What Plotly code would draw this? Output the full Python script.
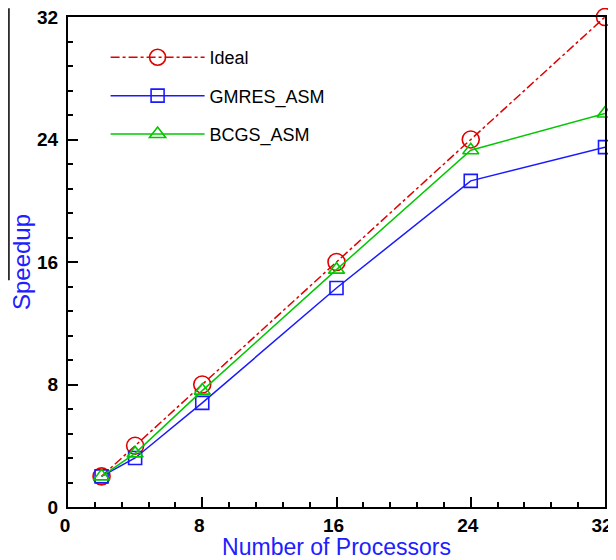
import plotly.graph_objects as go

processors = [2, 4, 8, 16, 24, 32]
ideal = [2, 4, 8, 16, 24, 32]
gmres_asm = [2.0, 3.2, 6.8, 14.3, 21.3, 23.5]
bcgs_asm = [2.0, 3.5, 7.6, 15.5, 23.3, 25.7]
tick_vals = [0, 8, 16, 24, 32]
tick_text = ["0", "8", "16", "24", "32"]

fig = go.Figure()
fig.add_trace(go.Scatter(
    x=processors, y=ideal, name="Ideal", mode="lines+markers", legendgroup="a",
    cliponaxis=False,
    line=dict(color="#e00000", width=1.5, dash="dashdot"),
    marker=dict(symbol="circle-open", size=17, color="#e00000", line=dict(width=1.6)),
))
fig.add_trace(go.Scatter(
    x=processors, y=gmres_asm, name="GMRES_ASM", mode="lines+markers", legendgroup="b",
    cliponaxis=False,
    line=dict(color="#1a1aff", width=1.5),
    marker=dict(symbol="square-open", size=13, color="#1a1aff", line=dict(width=1.6)),
))
fig.add_trace(go.Scatter(
    x=processors, y=bcgs_asm, name="BCGS_ASM", mode="lines+markers", legendgroup="c",
    cliponaxis=False,
    line=dict(color="#00c800", width=1.5),
    marker=dict(symbol="triangle-up-open", size=14, color="#00c800", line=dict(width=1.6)),
))

axis_common = dict(
    showgrid=False, zeroline=False, showline=True, linecolor="black", linewidth=2,
    mirror=True, ticks="inside", ticklen=10, tickwidth=2, tickcolor="black",
    tickvals=tick_vals, ticktext=tick_text, automargin=False,
    ticklabeloverflow="allow",
    tickfont=dict(family="Liberation Sans, Arial", size=19, color="black", weight="bold"),
    minor=dict(ticks="inside", ticklen=5, tickwidth=1.5, tickcolor="black", dtick=1.6, tick0=0),
)

fig.update_layout(
    width=608, height=552,
    margin=dict(l=60, r=11, t=9, b=53),
    paper_bgcolor="white", plot_bgcolor="white",
    font=dict(family="Liberation Sans, Arial", color="black"),
    xaxis=dict(range=[0, 32], ticklabelshift=-3,
               title=dict(text="Number of Processors", standoff=7,
               font=dict(size=23, color="#2020ff")), **axis_common),
    yaxis=dict(range=[0, 32], ticklabelstandoff=4,
               title=dict(text="Speedup", standoff=0,
               font=dict(size=24, color="#2020ff")), **axis_common),
    legend=dict(x=0.07, y=0.955, xanchor="left", yanchor="top",
                bgcolor="rgba(0,0,0,0)", font=dict(size=18, color="black"),
                itemwidth=94, tracegroupgap=12, traceorder="grouped"),
    showlegend=True,
    shapes=[dict(type="line", xref="paper", yref="paper", x0=-0.11, x1=-0.11,
                 y0=1.018, y1=0.463, line=dict(color="black", width=1.5))],
)

fig.write_html("out.html")
